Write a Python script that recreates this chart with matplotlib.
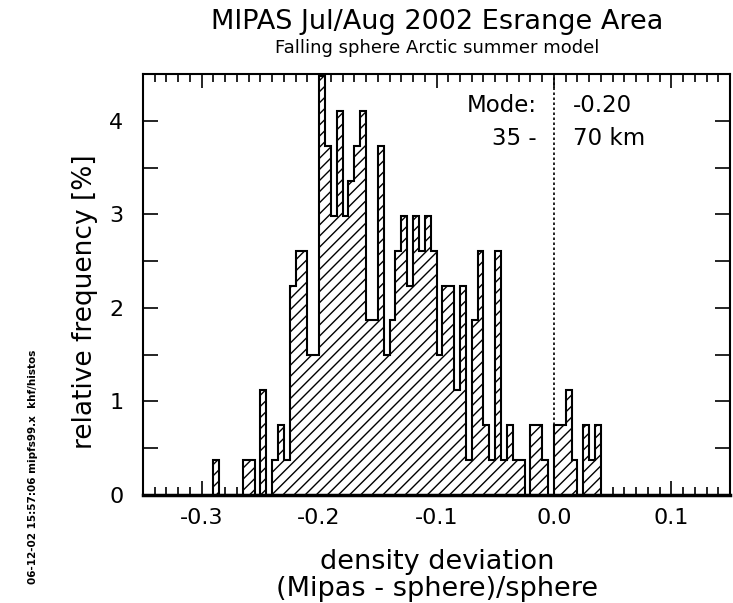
import numpy as np
import matplotlib
matplotlib.use('Agg')
import matplotlib.pyplot as plt
from matplotlib.ticker import MultipleLocator

# histogram of MIPAS - sphere density deviation, bins of 0.005
bin_start = -0.29
bin_width = 0.005
counts = [1, 0, 0, 0, 0, 1, 1, 0, 3, 0,
          1, 2, 1, 6, 7, 7, 4, 4, 12, 10,
          8, 11, 8, 9, 10, 11, 5, 5, 10, 4,
          5, 7, 8, 6, 8, 7, 8, 7, 4, 6,
          6, 3, 6, 1, 5, 7, 2, 1, 7, 1,
          2, 1, 1, 0, 2, 2, 1, 0, 2, 2,
          3, 1, 0, 2, 1, 2]
mode_text = ['Mode:', '-0.20']
alt_text = ['35 -', '70 km']
x_ticks = [-0.3, -0.2, -0.1, 0.0, 0.1]
y_ticks = [0, 1, 2, 3, 4]

counts = np.array(counts, dtype=float)
freq = counts / counts.sum() * 100.0
edges = bin_start + bin_width * np.arange(len(counts) + 1)

plt.rcParams['font.family'] = 'DejaVu Sans'
plt.rcParams['hatch.linewidth'] = 1.0

fig = plt.figure(figsize=(7.33, 6.03), dpi=100)
ax = fig.add_axes([143/733, 108/603, (730-143)/733, (495-74)/603])

ax.stairs(freq, edges, baseline=0, fill=True, facecolor='white',
          edgecolor='black', hatch='///', linewidth=1.5, zorder=2)
ax.axvline(0.0, color='black', linestyle=(0, (1.5, 1.5)), linewidth=1.2, zorder=3)

ax.set_xlim(-0.35, 0.15)
ax.set_ylim(0, 4.5)
ax.set_xticks(x_ticks)
ax.set_xticklabels(['%.1f' % v for v in x_ticks])
ax.set_yticks(y_ticks)
ax.xaxis.set_minor_locator(MultipleLocator(0.01))
ax.yaxis.set_minor_locator(MultipleLocator(0.5))
ax.tick_params(which='both', direction='in', top=True, right=True,
               labelsize=16, width=1.2)
ax.tick_params(axis='x', which='major', length=10, pad=9)
ax.tick_params(axis='x', which='minor', length=5.5)
ax.tick_params(axis='y', which='both', length=11, pad=14)
for s in ax.spines.values():
    s.set_linewidth(1.5)
ax.spines['bottom'].set_linewidth(2.5)

ax.text(-0.0145, 4.16, mode_text[0], ha='right', va='center', fontsize=16.5)
ax.text(0.016, 4.16, mode_text[1], ha='left', va='center', fontsize=16.5)
ax.text(-0.0145, 3.81, alt_text[0], ha='right', va='center', fontsize=16.5)
ax.text(0.016, 3.81, alt_text[1], ha='left', va='center', fontsize=16.5)

fig.text(437/733, 1 - 22/603, 'MIPAS Jul/Aug 2002 Esrange Area',
         ha='center', va='center', fontsize=19.5)
fig.text(437/733, 1 - 48/603, 'Falling sphere Arctic summer model',
         ha='center', va='center', fontsize=13)
fig.text(85/733, 1 - 302/603, 'relative frequency [%]', rotation=90,
         ha='center', va='center', fontsize=19)
fig.text(437/733, 1 - 562/603, 'density deviation',
         ha='center', va='center', fontsize=19.5)
fig.text(437/733, 1 - 589/603, '(Mipas - sphere)/sphere',
         ha='center', va='center', fontsize=19.5)
fig.text(33/733, 1 - 467/603, '06-12-02 15:57:06 mipfs99.x  khf/histos',
         rotation=90, ha='center', va='center', fontsize=7.5, fontweight='bold')

fig.savefig('out.png', dpi=100)
